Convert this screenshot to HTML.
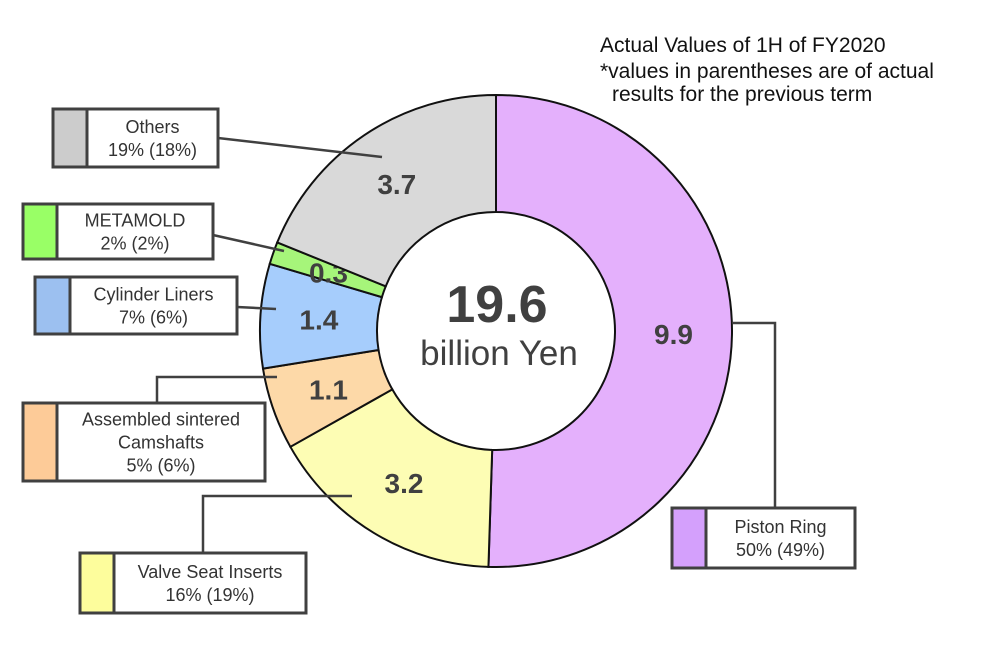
<!DOCTYPE html>
<html><head><meta charset="utf-8"><style>
html,body{margin:0;padding:0;background:#fff;}
svg{display:block;font-family:"Liberation Sans",sans-serif;}
</style></head><body>
<svg id="chart" width="1000" height="666" viewBox="0 0 1000 666" xmlns="http://www.w3.org/2000/svg">
<g fill="#111" font-size="21">
<text x="600" y="52">Actual Values of 1H of FY2020</text>
<text x="600" y="78">*values in parentheses are of actual</text>
<text x="612" y="101">results for the previous term</text>
</g>
<g id="slices"></g>
<g id="leaders"></g>
<g id="legends"></g>
<text x="497" y="322" text-anchor="middle" font-size="52" font-weight="bold" fill="#404040">19.6</text>
<text x="499" y="365" text-anchor="middle" font-size="35" fill="#404040">billion Yen</text>
</svg>
<script>
const categories = ["Piston Ring","Valve Seat Inserts","Assembled sintered Camshafts","Cylinder Liners","METAMOLD","Others"];
const values = [9.9, 3.2, 1.1, 1.4, 0.3, 3.7];
const valueLabels = ["9.9","3.2","1.1","1.4","0.3","3.7"];
const shareLabels = ["50% (49%)","16% (19%)","5% (6%)","7% (6%)","2% (2%)","19% (18%)"];
const colors = ["#e4b0fc","#fdfdb4","#fdd9a8","#a6cdfc","#a6f57a","#d9d9d9"];
const swatchColors = ["#d4a0fc","#fdfd9c","#fdcb98","#9cc0f0","#99ff66","#cccccc"];

const NS="http://www.w3.org/2000/svg";
const cx=496, cy=331, R=236, r0=119;
const total=values.reduce((a,b)=>a+b,0);
function pt(rad,ang){return [cx+rad*Math.sin(ang), cy-rad*Math.cos(ang)];}
const slicesG=document.getElementById('slices');
let acc=0;
values.forEach((v,i)=>{
  const a0=acc/total*2*Math.PI; acc+=v; const a1=acc/total*2*Math.PI;
  const large=(a1-a0)>Math.PI?1:0;
  const p0=pt(R,a0),p1=pt(R,a1),q1=pt(r0,a1),q0=pt(r0,a0);
  const p=document.createElementNS(NS,'path');
  p.setAttribute('d',`M${p0[0]},${p0[1]} A${R},${R} 0 ${large} 1 ${p1[0]},${p1[1]} L${q1[0]},${q1[1]} A${r0},${r0} 0 ${large} 0 ${q0[0]},${q0[1]} Z`);
  p.setAttribute('fill',colors[i]);p.setAttribute('stroke','#111');p.setAttribute('stroke-width','2');
  
  
  slicesG.appendChild(p);
  const am=(a0+a1)/2;
  const lp=pt((R+r0)/2, am);
  const t=document.createElementNS(NS,'text');
  t.setAttribute('x',lp[0]);t.setAttribute('y',lp[1]+10);t.setAttribute('text-anchor','middle');
  t.setAttribute('font-size','28');t.setAttribute('font-weight','bold');t.setAttribute('fill','#404040');
  t.textContent=valueLabels[i];
  
  
  slicesG.appendChild(t);
});
const boxes=[
 {x:672,y:508,w:183,h:60,sw:34,lines:[categories[0]],leader:[[733,323],[775,323],[775,508]]},
 {x:80,y:553,w:226,h:60,sw:34,lines:[categories[1]],leader:[[352,496],[203,496],[203,553]]},
 {x:23,y:403,w:242,h:78,sw:34,lines:["Assembled sintered","Camshafts"],leader:[[277,377],[157,377],[157,403]]},
 {x:35,y:277,w:202,h:57,sw:35,lines:[categories[3]],leader:[[276,309],[237,307]]},
 {x:23,y:204,w:190,h:55,sw:34,lines:[categories[4]],leader:[[284,251],[213,235]]},
 {x:53,y:109,w:165,h:58,sw:34,lines:[categories[5]],leader:[[382,157],[218,138]]}
];
const leadG=document.getElementById('leaders'), legG=document.getElementById('legends');
boxes.forEach((b,i)=>{
  const pl=document.createElementNS(NS,'polyline');
  pl.setAttribute('points',b.leader.map(p=>p.join(',')).join(' '));
  pl.setAttribute('fill','none');pl.setAttribute('stroke','#404040');pl.setAttribute('stroke-width','2.5');
  
  
  leadG.appendChild(pl);
  const g=document.createElementNS(NS,'g');
  
  
  const rc=document.createElementNS(NS,'rect');
  rc.setAttribute('x',b.x);rc.setAttribute('y',b.y);rc.setAttribute('width',b.w);rc.setAttribute('height',b.h);
  rc.setAttribute('fill','#fff');rc.setAttribute('stroke','#404040');rc.setAttribute('stroke-width','3');
  g.appendChild(rc);
  const s=document.createElementNS(NS,'rect');
  s.setAttribute('x',b.x);s.setAttribute('y',b.y);s.setAttribute('width',b.sw);s.setAttribute('height',b.h);
  s.setAttribute('fill',swatchColors[i]);s.setAttribute('stroke','#404040');s.setAttribute('stroke-width','3');
  
  
  g.appendChild(s);
  const lines=b.lines.concat([shareLabels[i]]);
  const tx=b.x+b.sw+(b.w-b.sw)/2;
  const lh=23; const startY=b.y+b.h/2-(lines.length*lh)/2+18;
  lines.forEach((ln,k)=>{
    const t=document.createElementNS(NS,'text');
    t.setAttribute('x',tx);t.setAttribute('y',startY+k*lh);t.setAttribute('text-anchor','middle');
    t.setAttribute('font-size','18');t.setAttribute('fill','#333');
    t.textContent=ln;
    
    
    g.appendChild(t);
  });
  legG.appendChild(g);
});
</script>
</body></html>
